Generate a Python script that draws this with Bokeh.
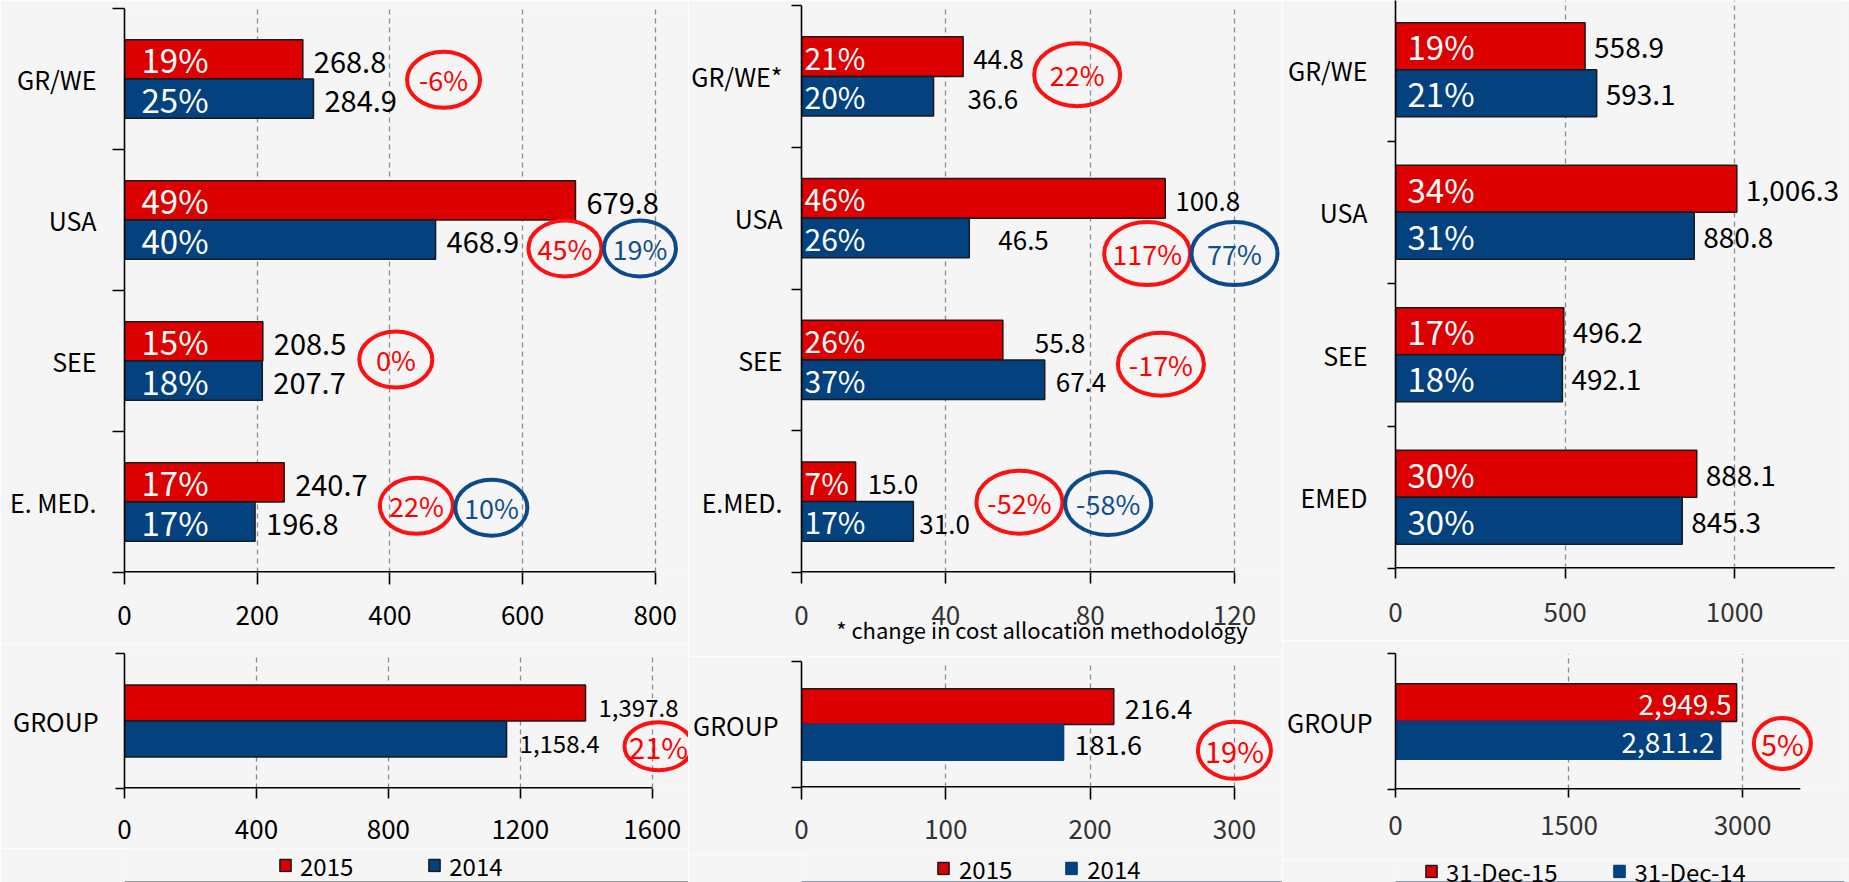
from bokeh.plotting import figure
from bokeh.layouts import row, column
from bokeh.models import (ColumnDataSource, FixedTicker, LabelSet, Legend,
                          LegendItem, Range1d)
from bokeh.embed import file_html
from bokeh.resources import INLINE
from bokeh.core.properties import value

# ------------------------------------------------------------------ data
opx_regions = ["GR/WE", "USA", "SEE", "E. MED."]
opx_2015 = [268.8, 679.8, 208.5, 240.7]
opx_2014 = [284.9, 468.9, 207.7, 196.8]
opx_share_2015 = [19, 49, 15, 17]
opx_share_2014 = [25, 40, 18, 17]
opx_chg = ["-6%", "45%", "0%", "22%"]
opx_chg_alt = ["19%", "10%"]
opx_group = [1397.8, 1158.4]
opx_group_chg = ["21%"]
opx_ticks = [0, 200, 400, 600, 800]
opx_group_ticks = [0, 400, 800, 1200, 1600]

ebit_regions = ["GR/WE*", "USA", "SEE", "E.MED."]
ebit_2015 = [44.8, 100.8, 55.8, 15.0]
ebit_2014 = [36.6, 46.5, 67.4, 31.0]
ebit_share_2015 = [21, 46, 26, 7]
ebit_share_2014 = [20, 26, 37, 17]
ebit_chg = ["22%", "117%", "-17%", "-52%"]
ebit_chg_alt = ["77%", "-58%"]
ebit_group = [216.4, 181.6]
ebit_group_chg = ["19%"]
ebit_ticks = [0, 40, 80, 120]
ebit_group_ticks = [0, 100, 200, 300]
footnote = "* change in cost allocation methodology"

assets_regions = ["GR/WE", "USA", "SEE", "EMED"]
assets_2015 = [558.9, 1006.3, 496.2, 888.1]
assets_2014 = [593.1, 880.8, 492.1, 845.3]
assets_share_2015 = [19, 34, 17, 30]
assets_share_2014 = [21, 31, 18, 30]
assets_group = [2949.5, 2811.2]
assets_group_chg = ["5%"]
assets_ticks = [0, 500, 1000]
assets_axis_max = 1295
assets_group_ticks = [0, 1500, 3000]
assets_group_axis_max = 3500

legend_years = ["2015", "2014"]
legend_dates = ["31-Dec-15", "31-Dec-14"]

# ------------------------------------------------------------------ layout / style
# positions of the change bubbles (data units of each panel)
opx_chg_x = [481, 664, 409, 440]
opx_chg_y = [3.494, 2.298, 1.51, 0.473]
opx_alt_x = [777, 553]
opx_alt_y = [2.298, 0.46]
opx_group_chg_xy = ([1619], [0.313])
ebit_chg_x = [76.4, 95.8, 99.6, 60.4]
ebit_chg_y = [3.512, 2.25, 1.47, 0.496]
ebit_alt_x = [120, 85]
ebit_alt_y = [2.25, 0.487]
ebit_group_chg_xy = ([300], [0.295])
assets_group_chg_xy = ([3345], [0.339])
ebit_gap_2015 = [10, 10, 32, 12]
ebit_gap_2014 = [34, 29, 11, 6]

FONT = "Noto Sans CJK KR"
RED = "#DD0000"
BLUE = "#03427F"
EDGE = "#1A1A1A"
C_RED = "#FF1010"
C_BLUE = "#0E4A8A"
T_RED = "#FF0000"
T_BLUE = "#104D8D"
BG = "#F5F5F5"


def make_fig(width, height, borders, x_end, y_top):
    bl, br, bt, bb = borders
    p = figure(width=width, height=height, x_range=Range1d(0, x_end),
               y_range=Range1d(0, y_top), output_backend="svg",
               toolbar_location=None, title=None,
               min_border_left=bl, min_border_right=br, min_border_top=bt,
               min_border_bottom=bb, background_fill_color=BG,
               border_fill_color=BG, outline_line_color=None)
    return p


def style(p, xticks, axis_max, bounds, centers, labels, x_tick_out, x_standoff,
          y_tick_out, y_standoff, cat_size, tick_color):
    xa = p.xaxis[0]
    xa.ticker = FixedTicker(ticks=xticks)
    xa.axis_line_color = None
    xa.major_tick_in = 0
    xa.major_tick_out = x_tick_out
    xa.minor_tick_in = 0
    xa.minor_tick_out = 0
    xa.major_tick_line_color = "black"
    xa.major_tick_line_width = 1.6
    xa.minor_tick_line_color = None
    xa.major_label_standoff = int(round(x_standoff))
    xa.major_label_text_font = FONT
    xa.major_label_text_font_size = "26px"
    xa.major_label_text_color = tick_color
    ya = p.yaxis[0]
    ya.ticker = FixedTicker(ticks=centers, minor_ticks=bounds)
    ya.axis_line_color = "black"
    ya.axis_line_width = 1.6
    ya.major_tick_in = 0
    ya.major_tick_out = 0
    ya.minor_tick_in = 0
    ya.minor_tick_out = y_tick_out
    ya.minor_tick_line_color = "black"
    ya.minor_tick_line_width = 1.6
    ya.major_label_overrides = {c: t for c, t in zip(centers, labels)}
    ya.major_label_standoff = int(round(y_standoff))
    ya.major_label_text_font = FONT
    ya.major_label_text_font_size = f"{cat_size}px"
    ya.major_label_text_color = "black"
    p.xgrid.ticker = FixedTicker(ticks=xticks[1:])
    p.xgrid.grid_line_color = "#8C8C8C"
    p.xgrid.grid_line_dash = "5 4"
    p.xgrid.grid_line_width = 1.3
    p.ygrid.visible = False
    p.segment(x0=[0], y0=[0], x1=[axis_max], y1=[0], line_color="black",
              line_width=3.2)


def add_bars(p, centers, v15, v14, h, blue_edge=True):
    y15 = [c + h / 2 for c in centers]
    y14 = [c - h / 2 for c in centers]
    r15 = p.hbar(y=y15, left=0, right=v15, height=h, fill_color=RED,
                 line_color=EDGE, line_width=1.5)
    r14 = p.hbar(y=y14, left=0, right=v14, height=h, fill_color=BLUE,
                 line_color=EDGE if blue_edge else BLUE, line_width=1.5)
    return r15, r14, y15, y14


def add_text(p, xs, ys, texts, size, color, align="left", x_off=0, y_off=0):
    data = dict(x=list(xs), y=list(ys), t=list(texts))
    kw = {}
    if isinstance(x_off, (list, tuple)):
        data["xo"] = list(x_off)
        kw["x_offset"] = "xo"
    else:
        kw["x_offset"] = x_off
    src = ColumnDataSource(data)
    p.add_layout(LabelSet(x="x", y="y", text="t", source=src, y_offset=y_off,
                          text_align=align, text_baseline="middle",
                          text_font=value(FONT),
                          text_font_size=value(f"{size}px"),
                          text_color=color, **kw))


def add_circles(p, xs, ys, texts, w, h, line_color, text_color, size):
    p.ellipse(x=xs, y=ys, width=w, height=h, width_units="screen",
              height_units="screen", fill_color=None, line_color=line_color,
              line_width=4)
    add_text(p, xs, ys, texts, size, text_color, align="center")


def legend_strip(width, height, borders, labels, group_vals, left, spacing,
                 standoff, blue_edge):
    # swatch renderers carry the group values but sit below the strip's visible range
    bl, br = borders
    s = figure(width=width, height=height, x_range=Range1d(0, 1),
               y_range=Range1d(0, 1), output_backend="svg",
               toolbar_location=None, title=None, x_axis_location=None,
               y_axis_location=None, min_border=0, min_border_left=bl,
               min_border_right=br, background_fill_color=BG,
               border_fill_color=BG, outline_line_color=None)
    s.xgrid.visible = False
    s.ygrid.visible = False
    k15 = s.hbar(y=[-5], left=[0], right=[group_vals[0]], height=0.5,
                 fill_color=RED, line_color=EDGE, line_width=1.5)
    k14 = s.hbar(y=[-5], left=[0], right=[group_vals[1]], height=0.5,
                 fill_color=BLUE, line_color=EDGE if blue_edge else BLUE,
                 line_width=1.5)
    leg = Legend(items=[LegendItem(label=labels[0], renderers=[k15]),
                        LegendItem(label=labels[1], renderers=[k14])],
                 location="left", orientation="horizontal", glyph_width=14,
                 glyph_height=15, label_standoff=standoff, padding=0,
                 margin=int(left), spacing=spacing, border_line_color=None,
                 background_fill_alpha=0, label_text_font=FONT,
                 label_text_font_size="24px", label_height=15,
                 label_text_color="black")
    s.add_layout(leg)
    return s


def pct(vals):
    return [f"{v}%" for v in vals]


def num(vals):
    return [f"{v:,.1f}" for v in vals]


def centers_of(n):
    return [n - i - 0.5 for i in range(n)]


# ------------------------------------------------------------------ panel A (left)
n = len(opx_regions)
cA = centers_of(n)
pA = make_fig(688, 644, (124, 0, 8, 72), 850.2, 4)
style(pA, opx_ticks, opx_ticks[-1], list(range(n + 1)), cA, opx_regions,
      12, 21, 12, 16, 25, "black")
r15, r14, y15, y14 = add_bars(pA, cA, opx_2015, opx_2014, 0.278)
add_text(pA, [0] * n, y15, pct(opx_share_2015), 33, "white", "left", 17)
add_text(pA, [0] * n, y14, pct(opx_share_2014), 33, "white", "left", 17)
add_text(pA, opx_2015, y15, num(opx_2015), 29, "black", "left", 11, -3)
add_text(pA, opx_2014, y14, num(opx_2014), 29, "black", "left", 11, -3)
add_circles(pA, opx_chg_x, opx_chg_y, opx_chg, 73, 56, C_RED, T_RED, 27)
add_circles(pA, opx_alt_x, opx_alt_y, opx_chg_alt, 72, 56, C_BLUE, T_BLUE, 27)

pAg = make_fig(688, 204, (124, 0, 9, 60), 1710, 1)
style(pAg, opx_group_ticks, opx_group_ticks[-1], [0, 1], [0.5], ["GROUP"],
      10, 21, 9, 17, 25, "black")
g15, g14, gy15, gy14 = add_bars(pAg, [0.5], [opx_group[0]], [opx_group[1]], 0.267)
add_text(pAg, [opx_group[0]], gy15, num([opx_group[0]]), 24, "black", "left", 13, -5)
add_text(pAg, [opx_group[1]], gy14, num([opx_group[1]]), 24, "black", "left", 13, -5)
add_circles(pAg, opx_group_chg_xy[0], opx_group_chg_xy[1], opx_group_chg, 68, 48, C_RED, T_RED, 29)
legA = legend_strip(688, 34, (124, 0), legend_years, opx_group, 154, 74, 8, True)

# ------------------------------------------------------------------ panel B (middle)
n = len(ebit_regions)
cB = centers_of(n)
pB = make_fig(594, 656, (113, 0, 5, 84), 133.3, 4)
style(pB, ebit_ticks, ebit_ticks[-1], list(range(n + 1)), cB, ebit_regions,
      11, 22, 10, 9, 25, "#333333")
xa = pB.xaxis[0]
xa.axis_label = footnote
xa.axis_label_standoff = -15
xa.axis_label_text_font = FONT
xa.axis_label_text_font_size = "22px"
xa.axis_label_text_font_style = "normal"
xa.axis_label_text_color = "black"
r15, r14, y15, y14 = add_bars(pB, cB, ebit_2015, ebit_2014, 0.28)
add_text(pB, [0] * n, y15, pct(ebit_share_2015), 30, "white", "left", 3)
add_text(pB, [0] * n, y14, pct(ebit_share_2014), 30, "white", "left", 3)
add_text(pB, ebit_2015, y15, num(ebit_2015), 26, "black", "left", ebit_gap_2015, -3)
add_text(pB, ebit_2014, y14, num(ebit_2014), 26, "black", "left", ebit_gap_2014, -3)
add_circles(pB, ebit_chg_x, ebit_chg_y, ebit_chg, 86, 63, C_RED, T_RED, 27)
add_circles(pB, ebit_alt_x, ebit_alt_y, ebit_chg_alt, 86, 63, C_BLUE, T_BLUE, 27)

pBg = make_fig(594, 198, (113, 0, 5, 67), 333.3, 1)
style(pBg, ebit_group_ticks, ebit_group_ticks[-1], [0, 1], [0.5], ["GROUP"],
      12, 20, 10, 13, 25, "#333333")
g15, g14, gy15, gy14 = add_bars(pBg, [0.5], [ebit_group[0]], [ebit_group[1]], 0.283, blue_edge=False)
add_text(pBg, [ebit_group[0]], gy15, num([ebit_group[0]]), 27, "black", "left", 11, -2.5)
add_text(pBg, [ebit_group[1]], gy14, num([ebit_group[1]]), 27, "black", "left", 11, -2.5)
add_circles(pBg, ebit_group_chg_xy[0], ebit_group_chg_xy[1], ebit_group_chg, 73, 57, C_RED, T_RED, 29)
legB = legend_strip(594, 28, (113, 0), legend_years, ebit_group, 135, 52, 9, False)

# ------------------------------------------------------------------ panel C (right)
n = len(assets_regions)
cC = centers_of(n)
pC = make_fig(567, 640, (113, 5, 0, 72), 1323.7, 3.986)
style(pC, assets_ticks, assets_axis_max, list(range(n + 1)), cC, assets_regions,
      10, 24, 8, 20, 25, "#333333")
r15, r14, y15, y14 = add_bars(pC, cC, assets_2015, assets_2014, 0.33)
add_text(pC, [0] * n, y15, pct(assets_share_2015), 33, "white", "left", 12)
add_text(pC, [0] * n, y14, pct(assets_share_2014), 33, "white", "left", 12)
add_text(pC, assets_2015, y15, num(assets_2015), 28, "black", "left", 9, -1.5)
add_text(pC, assets_2014, y14, num(assets_2014), 28, "black", "left", 9, -1.5)

pCg = make_fig(567, 220, (113, 5, 13, 71), 3882, 1)
style(pCg, assets_group_ticks, assets_group_axis_max, [0, 1], [0.5], ["GROUP"],
      8, 18, 8, 15, 25, "#333333")
g15, g14, gy15, gy14 = add_bars(pCg, [0.5], [assets_group[0]], [assets_group[1]], 0.278, blue_edge=False)
add_text(pCg, [assets_group[0]], gy15, num([assets_group[0]]), 28, "white", "right", -5, -2)
add_text(pCg, [assets_group[1]], gy14, num([assets_group[1]]), 28, "white", "right", -6, -2)
add_circles(pCg, assets_group_chg_xy[0], assets_group_chg_xy[1], assets_group_chg, 57, 51, C_RED, T_RED, 29)
legC = legend_strip(567, 22, (113, 5), legend_dates, assets_group, 29, 55, 8, False)

layout = row(column(pA, pAg, legA), column(pB, pBg, legB), column(pC, pCg, legC))
open("out.html", "w").write(file_html(layout, INLINE))
